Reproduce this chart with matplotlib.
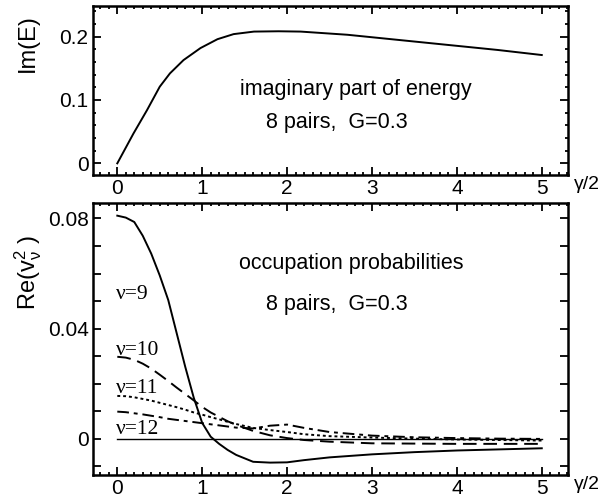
import numpy as np
import matplotlib
matplotlib.use("Agg")
import matplotlib.pyplot as plt
from matplotlib.ticker import MultipleLocator, FixedLocator, FuncFormatter

plt.rcParams['font.family'] = ['Liberation Sans', 'DejaVu Sans']
plt.rcParams['mathtext.fontset'] = 'custom'
plt.rcParams['mathtext.rm'] = 'Liberation Sans'
plt.rcParams['mathtext.it'] = 'Liberation Sans'

# imaginary part of energy vs gamma/2
gam_top = [0, 0.19, 0.35, 0.5, 0.62, 0.78, 0.98, 1.18, 1.37, 1.61, 1.9, 2.16, 2.71, 3.3, 3.89, 4.48, 5.0]
im_e = [0, 0.047, 0.084, 0.121, 0.142, 0.163, 0.182, 0.196, 0.204, 0.208, 0.2085, 0.208, 0.203, 0.195, 0.187, 0.179, 0.171]

# occupation probabilities
gam = [0, 0.1, 0.2, 0.3, 0.4, 0.5, 0.6, 0.7, 0.8, 0.9, 1.0, 1.1, 1.2, 1.3, 1.4,
       1.6, 1.8, 2.0, 2.2, 2.5, 3.0, 3.5, 4.0, 4.5, 5.0]
nu9 = [0.0810, 0.0803, 0.0787, 0.0737, 0.0672, 0.0593, 0.0504, 0.0383, 0.0262, 0.0150,
       0.0058, 0.0008, -0.0018, -0.0040, -0.0058, -0.0083, -0.0086, -0.0085, -0.0077,
       -0.0067, -0.0056, -0.0048, -0.0042, -0.0038, -0.0034]
nu10 = [0.0298, 0.0295, 0.0287, 0.0273, 0.0255, 0.0233, 0.0210, 0.0186, 0.0163, 0.0140,
        0.0116, 0.0096, 0.0080, 0.0064, 0.0051, 0.0029, 0.0013, 0.0003, -0.0004,
        -0.0010, -0.0016, -0.0017, -0.0018, -0.0018, -0.0018]
nu11 = [0.0156, 0.0155, 0.0151, 0.0145, 0.0139, 0.0131, 0.0123, 0.0115, 0.0106, 0.0096,
        0.0088, 0.0079, 0.0071, 0.0062, 0.0054, 0.0040, 0.0032, 0.0025, 0.0017,
        0.0010, 0.0005, 0.0001, -0.0002, -0.0004, -0.0006]
nu12 = [0.0099, 0.0097, 0.0093, 0.0089, 0.0084, 0.0079, 0.0073, 0.0069, 0.0065, 0.0061,
        0.0057, 0.0053, 0.0049, 0.0045, 0.0041, 0.0038, 0.0048, 0.0052, 0.0040,
        0.0025, 0.0012, 0.0006, 0.0003, 0.0001, 0.0000]
labels = ['\u03bd=9', '\u03bd=10', '\u03bd=11', '\u03bd=12']
label_y = [0.0507, 0.0305, 0.0166, 0.0019]

fs = 15
fs_txt = 15.5


def fmt(v, pos):
    if abs(v) < 1e-9:
        return '0'
    return ('%g' % v)


def style(ax):
    for s in ax.spines.values():
        s.set_linewidth(1.8)
    ax.xaxis.set_major_locator(MultipleLocator(1))
    ax.xaxis.set_minor_locator(MultipleLocator(0.1))
    ax.tick_params(which='both', direction='in', top=True, right=True, width=1.3,
                   labelsize=fs)
    ax.tick_params(which='major', length=6)
    ax.tick_params(which='minor', length=2.5)
    ax.tick_params(axis='x', pad=3)
    ax.tick_params(axis='y', pad=3)
    ax.xaxis.set_major_formatter(FuncFormatter(fmt))
    ax.set_xlim(-0.29, 5.305)


fig = plt.figure(figsize=(6.03, 5.04), dpi=100)

ax1 = fig.add_axes([0.1537, 0.6528, 0.7877, 0.3353])
ax1.plot(gam_top, im_e, color='black', lw=1.4)
style(ax1)
ax1.set_ylim(-0.0184, 0.2484)
ax1.yaxis.set_major_locator(FixedLocator([0, 0.1, 0.2]))
ax1.yaxis.set_minor_locator(MultipleLocator(0.02))
ax1.yaxis.set_major_formatter(FuncFormatter(fmt))
ax1.text(2.81, 0.108, 'imaginary part of energy', fontsize=fs_txt, ha='center', va='baseline')
ax1.text(2.59, 0.056, '8 pairs,  G=0.3', fontsize=fs_txt, ha='center', va='baseline')
ax1.text(5.53, -0.020, '\u03b3/2', fontsize=14, ha='center', va='top')

ax2 = fig.add_axes([0.1537, 0.0575, 0.7877, 0.5403])
ax2.axhline(0, xmin=(0 + 0.29) / 5.595, xmax=(5 + 0.29) / 5.595, color='black', lw=1.0)
ax2.plot(gam, nu9, color='black', lw=1.4)
ax2.plot(gam, nu10, color='black', lw=1.4, dashes=(7, 3.5))
ax2.plot(gam, nu11, color='black', lw=1.4, dashes=(1.5, 1.5))
ax2.plot(gam, nu12, color='black', lw=1.4, dashes=(6, 2.5, 2, 2.5))
style(ax2)
ax2.set_ylim(-0.0131, 0.0857)
ax2.yaxis.set_major_locator(MultipleLocator(0.01))
ax2.yaxis.set_major_formatter(FuncFormatter(
    lambda v, p: fmt(v, p) if abs(round(v / 0.04) * 0.04 - v) < 1e-9 else ''))
for lab, yy in zip(labels, label_y):
    ax2.text(-0.02, yy, lab, fontsize=15.5, ha='left', va='baseline',
             family=['Liberation Serif', 'DejaVu Serif'])
ax2.text(2.76, 0.0617, 'occupation probabilities', fontsize=fs_txt, ha='center', va='baseline')
ax2.text(2.59, 0.0466, '8 pairs,  G=0.3', fontsize=fs_txt, ha='center', va='baseline')
ax2.text(5.53, -0.0136, '\u03b3/2', fontsize=14, ha='center', va='top')

fig.text(0.0464, 1 - 43.3 / 504, 'Im(E)', fontsize=17, rotation=90, ha='center', va='center')
fig.text(0.0464, 1 - 272.5 / 504, r'Re(v$_\nu^2$ )', fontsize=17, rotation=90,
         ha='center', va='center')

fig.savefig('out.png', dpi=100)
